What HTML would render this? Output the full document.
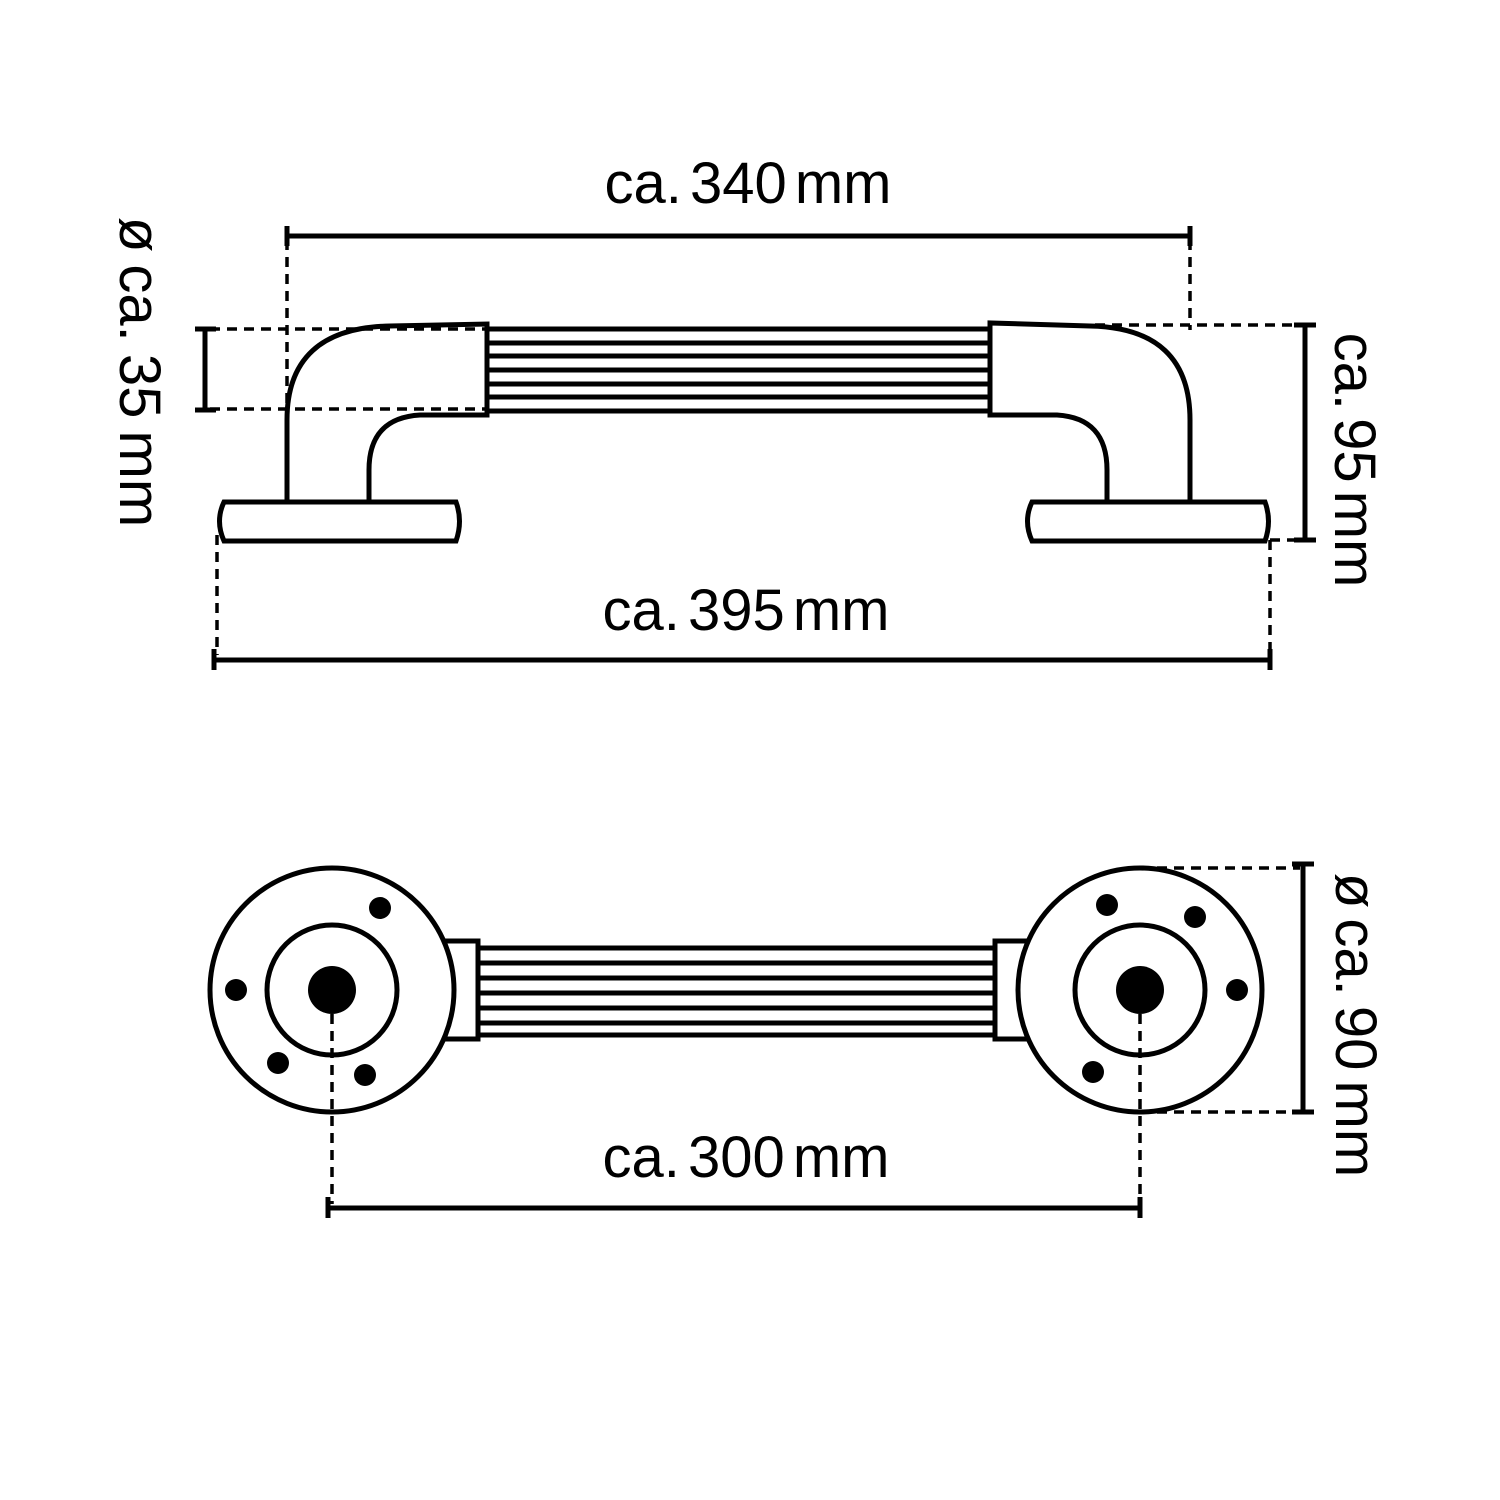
<!DOCTYPE html>
<html><head><meta charset="utf-8"><style>
html,body{margin:0;padding:0;background:#fff;}
svg{display:block}
text{font-family:"Liberation Sans","DejaVu Sans",sans-serif;font-size:58px;fill:#000}
</style></head><body>
<svg width="1500" height="1500" viewBox="0 0 1500 1500" xmlns="http://www.w3.org/2000/svg">
<g fill="none" stroke="#000" stroke-width="5">
<rect x="487" y="329" width="503" height="82" fill="#fff"/>
<path d="M487 343H990M487 356H990M487 370H990M487 384H990M487 397H990" />
<path d="M287 502 V420 Q287 328 390 326 L487 324 V415 L420 415 Q369 418 369 470 V502" fill="#fff"/>
<path d="M1190 502 V420 Q1190 328 1090 326 L990 323 V415 L1057 415 Q1107 418 1107 470 V502" fill="#fff"/>
<path d="M224 502 H456 Q463 521 456 541 H224 Q215 521 224 502Z" fill="#fff"/>
<path d="M1032 502 H1265 Q1272 521 1265 541 H1032 Q1023 521 1032 502Z" fill="#fff"/>
<rect x="445" y="941" width="33" height="98" fill="#fff"/>
<rect x="995" y="941" width="33" height="98" fill="#fff"/>
<path d="M478 948H995M478 963H995M478 978H995M478 993H995M478 1008H995M478 1023H995M478 1035H995"/>
<circle cx="332" cy="990" r="122" fill="#fff"/>
<circle cx="332" cy="990" r="65"/>
<circle cx="1140" cy="990" r="122" fill="#fff"/>
<circle cx="1140" cy="990" r="65"/>
<path d="M287 236H1190M287 226V246M1190 226V246"/>
<path d="M205 329V410M195 329H216M195 410H216"/>
<path d="M1305 325V540M1294 325H1316M1294 540H1316"/>
<path d="M214 660H1270M214 649V670M1270 649V670"/>
<path d="M328 1208H1140M328 1197V1218M1140 1197V1218"/>
<path d="M1303 864V1112M1292 864H1314M1292 1112H1314"/>
</g>
<g fill="#000">
<circle cx="332" cy="990" r="24"/>
<circle cx="1140" cy="990" r="24"/>
<circle cx="380" cy="908" r="11"/><circle cx="236" cy="990" r="11"/><circle cx="278" cy="1063" r="11"/><circle cx="365" cy="1075" r="11"/>
<circle cx="1107" cy="905" r="11"/><circle cx="1195" cy="917" r="11"/><circle cx="1237" cy="990" r="11"/><circle cx="1093" cy="1072" r="11"/>
</g>
<g fill="none" stroke="#000" stroke-width="3.5" stroke-dasharray="10 7">
<path d="M287 240V410M1190 240V330"/>
<path d="M210 329H487M210 409H487"/>
<path d="M1095 325H1300M1270 540H1300"/>
<path d="M217 535V655M1270 540V655"/>
<path d="M332 1014V1204M1140 1014V1204"/>
<path d="M1140 868H1300M1140 1112H1300"/>
</g>
<text x="748" y="203" text-anchor="middle" word-spacing="-8">ca. 340 mm</text>
<text x="746" y="630" text-anchor="middle" word-spacing="-8">ca. 395 mm</text>
<text x="746" y="1177" text-anchor="middle" word-spacing="-8">ca. 300 mm</text>
<text transform="translate(120 372) rotate(90)" text-anchor="middle" word-spacing="-4">ø ca. 35 mm</text>
<text transform="translate(1335 460) rotate(90)" text-anchor="middle" word-spacing="-8">ca. 95 mm</text>
<text transform="translate(1336 1025) rotate(90)" text-anchor="middle" word-spacing="-6">ø ca. 90 mm</text>
</svg>
</body></html>
